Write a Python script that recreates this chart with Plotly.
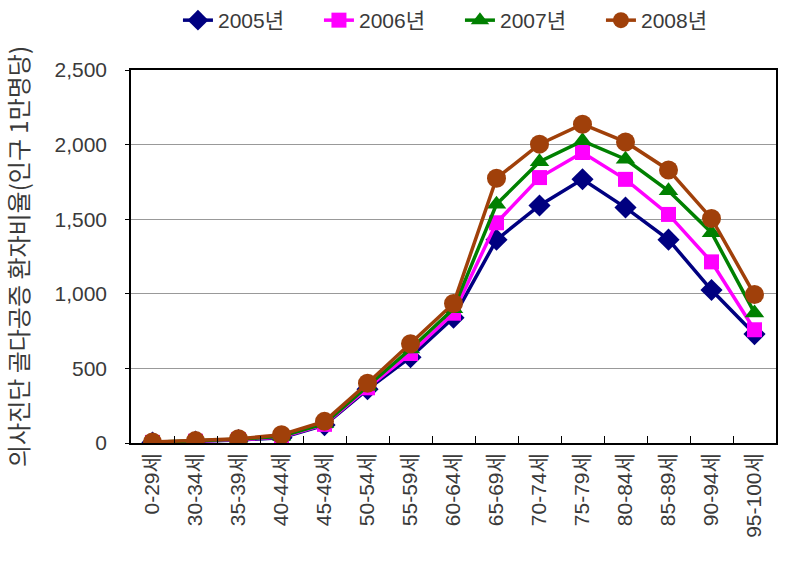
import plotly.graph_objects as go

categories = ["0-29세", "30-34세", "35-39세", "40-44세", "45-49세", "50-54세", "55-59세",
              "60-64세", "65-69세", "70-74세", "75-79세", "80-84세", "85-89세", "90-94세", "95-100세"]
y2005 = [3, 10, 20, 35, 120, 360, 575, 840, 1362, 1592, 1768, 1578, 1363, 1025, 730]
y2006 = [4, 12, 22, 40, 125, 370, 600, 870, 1476, 1779, 1947, 1767, 1532, 1214, 759]
y2007 = [5, 14, 25, 45, 130, 380, 630, 900, 1600, 1885, 2025, 1902, 1690, 1410, 872]
y2008 = [7, 16, 28, 55, 145, 400, 665, 935, 1774, 2003, 2137, 2018, 1830, 1505, 995]
series_names = ["2005년", "2006년", "2007년", "2008년"]
tick_vals = [0, 500, 1000, 1500, 2000, 2500]
tick_text = ["0", "500", "1,000", "1,500", "2,000", "2,500"]

colors = ["#000080", "#FF00FF", "#008000", "#A0400A"]
symbols = ["diamond", "square", "triangle-up", "circle"]
sizes = [17, 15, 17, 19]

fig = go.Figure()
for name, ys, c, s, sz in zip(series_names, [y2005, y2006, y2007, y2008], colors, symbols, sizes):
    fig.add_trace(go.Scatter(
        x=categories, y=ys, name=name, mode="lines+markers",
        line=dict(color=c, width=3.5),
        marker=dict(symbol=s, size=sz, color=c),
    ))

font_family = "Liberation Sans, Noto Sans CJK KR"
text_color = "#3a3a3a"
fig.update_layout(
    width=790, height=562,
    margin=dict(l=131, r=14, t=70, b=119),
    paper_bgcolor="white", plot_bgcolor="white",
    font=dict(family=font_family, color=text_color),
    showlegend=True,
    legend=dict(orientation="h", x=0.51, xanchor="center", y=1.0, yref="container", yanchor="top",
                font=dict(size=21, color=text_color), tracegroupgap=0, entrywidth=96,
                bgcolor="rgba(0,0,0,0)"),
    xaxis=dict(
        type="category", tickangle=-90, tickfont=dict(size=21, color=text_color),
        showline=True, linecolor="black", linewidth=1.5, mirror=True,
        ticks="inside", ticklen=7, tickcolor="black", tickson="boundaries",
        showgrid=False, range=[-0.5, 14.5],
    ),
    yaxis=dict(
        range=[0, 2500], tickvals=tick_vals, ticktext=tick_text,
        tickfont=dict(size=21, color=text_color),
        showline=True, linecolor="black", linewidth=1.5, mirror=True,
        ticks="outside", ticklen=4, tickcolor="black", ticklabelstandoff=14,
        showgrid=True, gridcolor="#999999", gridwidth=1,
        title=dict(text="의사진단 골다공증 환자비율(인구 1만명당)",
                   font=dict(size=24, color=text_color, family="Noto Sans CJK KR"), standoff=22),
        zeroline=False,
    ),
)

fig.write_html("out.html")
